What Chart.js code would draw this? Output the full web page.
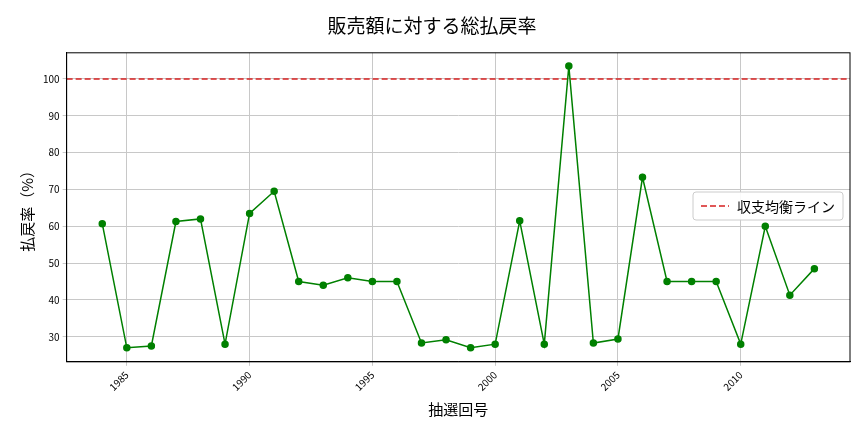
<!DOCTYPE html>
<html><head><meta charset="utf-8">
<script src="https://cdn.jsdelivr.net/npm/chart.js@4/dist/chart.umd.min.js"></script>
<style>body{margin:0;background:#fff}#wrap{width:864px;height:432px}</style>
</head><body><div id="wrap"><canvas id="c"></canvas></div>
<script>
const years = [1984,1985,1986,1987,1988,1989,1990,1991,1992,1993,1994,1995,1996,1997,1998,1999,2000,2001,2002,2003,2004,2005,2006,2007,2008,2009,2010,2011,2012,2013];
const payoutRate = [60.7,27,27.5,61.3,62,28,63.5,69.5,45,44,46,45,45,28.3,29.2,27,28,61.5,28,103.5,28.3,29.4,73.3,45,45,45,28,60,41.3,48.5];
const breakEven = 100;
const xMin = 1982.55, xMax = 2014.45;
const font = "'Noto Sans CJK JP', 'DejaVu Sans', sans-serif";

// legend box + axes frame, matplotlib style
const legendBox = {
  id: 'legendBox',
  afterDraw(chart) {
    const ctx = chart.ctx, a = chart.chartArea;
    ctx.save();
    ctx.strokeStyle = '#000'; ctx.lineWidth = 1;
    ctx.strokeRect(a.left, a.top, a.right - a.left, a.bottom - a.top);
    const w = 150, h = 28, x = a.right - w - 7, y = 192;
    ctx.fillStyle = 'rgba(255,255,255,0.9)';
    ctx.strokeStyle = '#ccc';
    ctx.beginPath(); ctx.roundRect(x, y, w, h, 3); ctx.fill(); ctx.stroke();
    ctx.strokeStyle = '#d62020'; ctx.lineWidth = 1.5; ctx.setLineDash([6, 3]);
    ctx.beginPath(); ctx.moveTo(x + 8, y + h / 2); ctx.lineTo(x + 36, y + h / 2); ctx.stroke();
    ctx.setLineDash([]);
    ctx.fillStyle = '#000'; ctx.font = '14px ' + font; ctx.textBaseline = 'middle';
    ctx.fillText('収支均衡ライン', x + 44, y + h / 2 + 1);
    ctx.restore();
  }
};

new Chart(document.getElementById('c'), {
  type: 'line',
  data: {
    datasets: [
      { label: '総払戻率', data: years.map((y, i) => ({x: y, y: payoutRate[i]})), borderColor: 'green', backgroundColor: 'green', borderWidth: 1.5, pointRadius: 3, pointHoverRadius: 3, tension: 0 },
      { label: '収支均衡ライン', data: [{x: xMin, y: breakEven}, {x: xMax, y: breakEven}], borderColor: '#d62020', borderWidth: 1.5, borderDash: [6, 3], pointRadius: 0 }
    ]
  },
  options: {
    responsive: true, maintainAspectRatio: false, animation: false,
    layout: { padding: { left: 14, right: 14, top: 8, bottom: 10 } },
    plugins: {
      legend: { display: false }, tooltip: { enabled: false },
      title: { display: true, text: '販売額に対する総払戻率', font: { family: font, size: 19, weight: 'normal' }, color: '#000', padding: { top: 6, bottom: 16 } }
    },
    scales: {
      x: { type: 'linear', min: xMin, max: xMax,
        afterBuildTicks(s) { s.ticks = [1985,1990,1995,2000,2005,2010].map(v => ({value: v})); },
        ticks: { callback: v => String(v), maxRotation: 45, minRotation: 45, font: { family: font, size: 10 }, color: '#000' },
        grid: { color: '#c8c8c8', drawTicks: true, tickLength: 4 }, border: { color: '#000' },
        title: { display: true, text: '抽選回号', font: { family: font, size: 15 }, color: '#000' } },
      y: { min: 23.2, max: 107.1,
        afterBuildTicks(s) { s.ticks = [30,40,50,60,70,80,90,100].map(v => ({value: v})); },
        ticks: { font: { family: font, size: 10 }, color: '#000' },
        grid: { color: '#c8c8c8', tickLength: 4 }, border: { color: '#000' },
        title: { display: true, text: '払戻率（%）', font: { family: font, size: 15 }, color: '#000' } }
    }
  },
  plugins: [legendBox]
});
</script></body></html>
